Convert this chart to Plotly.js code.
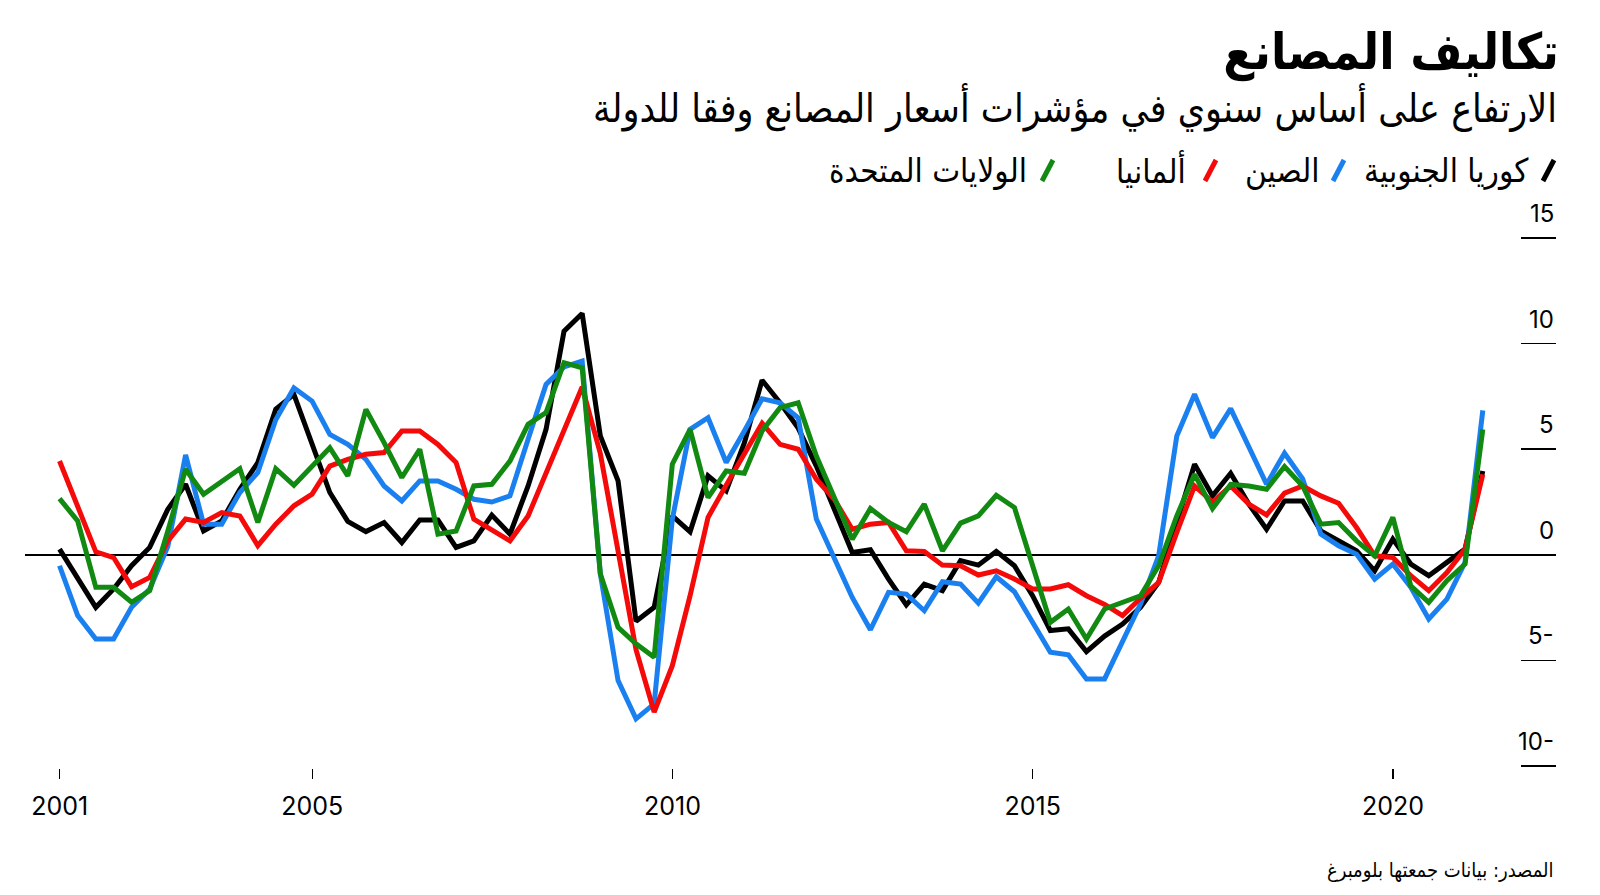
<!DOCTYPE html>
<html><head><meta charset="utf-8">
<script src="https://cdn.plot.ly/plotly-3.0.1.min.js"></script>
<style>html,body{margin:0;padding:0;background:#fff}#chart{width:1600px;height:895px}</style>
</head><body><div id="chart"></div>
<script>
// ---- data (quarterly, year-on-year % change in producer price indices) ----
const seriesNames = ['كوريا الجنوبية', 'الصين', 'ألمانيا', 'الولايات المتحدة'];
const seriesColors = ['#000000', '#1a80f0', '#f50a0a', '#128a12'];

const korea = [0.27, -1.1, -2.49, -1.62, -0.52, 0.35, 2.16, 3.34, 1.13, 1.6, 3.1, 4.37, 6.89, 7.6, 5.3, 2.95,
  1.58, 1.1, 1.53, 0.58, 1.65, 1.65, 0.35, 0.66, 1.88, 0.98, 3.26, 5.94, 10.59, 11.43, 5.63, 3.5,
  -3.15, -2.49, 1.84, 1.09, 3.74, 3.03, 5.3, 8.27, 7.2, 6.0, 4.2, 2.16, 0.11, 0.24, -1.15, -2.38,
  -1.39, -1.7, -0.28, -0.49, 0.16, -0.52, -1.94, -3.59, -3.51, -4.59, -3.85, -3.28, -2.49, -1.31, 1.53, 4.29,
  2.79, 3.86, 2.4, 1.21, 2.55, 2.55, 1.13, 0.66, 0.19, -0.76, 0.74, -0.44, -0.99, -0.36, 0.27, 3.97];

const china = [-0.52, -2.88, -3.99, -3.99, -2.49, -1.62, 0.4, 4.73, 1.45, 1.45, 2.95, 3.9, 6.4, 7.9, 7.28, 5.7,
  5.23, 4.52, 3.26, 2.55, 3.5, 3.5, 3.1, 2.63, 2.5, 2.79, 5.47, 8.07, 8.9, 9.17, -0.9, -5.96,
  -7.77, -7.06, 1.69, 5.94, 6.49, 4.37, 5.86, 7.39, 7.2, 6.49, 1.69, -0.2, -2.02, -3.55, -1.78, -1.86,
  -2.65, -1.28, -1.39, -2.29, -1.04, -1.75, -3.2, -4.62, -4.74, -5.88, -5.88, -4.15, -2.33, -0.05, 5.63, 7.6,
  5.55, 6.92, 5.07, 3.34, 4.81, 3.6, 0.98, 0.43, 0.03, -1.15, -0.44, -1.54, -3.04, -2.1, -0.36, 6.84];

const germany = [4.44, 2.32, 0.14, -0.13, -1.51, -1.07, 0.66, 1.69, 1.53, 2.0, 1.84, 0.43, 1.45, 2.32, 2.87, 4.2,
  4.52, 4.76, 4.84, 5.86, 5.86, 5.23, 4.37, 1.69, 1.21, 0.66, 1.84, 3.9, 5.9, 7.95, 4.8, 0.2,
  -4.5, -7.45, -5.25, -1.94, 1.77, 3.3, 4.84, 6.23, 5.23, 5.0, 3.58, 2.63, 1.21, 1.45, 1.53, 0.19,
  0.16, -0.49, -0.52, -0.96, -0.76, -1.15, -1.62, -1.62, -1.42, -1.94, -2.35, -2.88, -2.06, -1.31, 1.06, 3.26,
  2.5, 3.26, 2.4, 1.89, 2.92, 3.26, 2.79, 2.44, 1.29, -0.05, -0.13, -0.99, -1.7, -0.84, 0.27, 3.81];

const usa = [2.66, 1.6, -1.54, -1.54, -2.25, -1.7, 1.13, 4.05, 2.87, 3.5, 4.08, 1.53, 4.08, 3.29, 4.2, 5.07,
  3.74, 6.89, 5.31, 3.66, 5.0, 0.98, 1.13, 3.26, 3.34, 4.44, 6.18, 6.73, 9.1, 8.86, -0.9, -3.44,
  -4.22, -4.85, 4.29, 5.94, 2.71, 3.97, 3.86, 5.86, 6.97, 7.2, 4.68, 2.71, 0.74, 2.19, 1.53, 1.09,
  2.4, 0.19, 1.5, 1.84, 2.82, 2.24, -0.6, -3.2, -2.57, -3.99, -2.57, -2.25, -1.94, -0.52, 1.84, 3.81,
  2.19, 3.34, 3.26, 3.1, 4.18, 3.26, 1.45, 1.53, 0.66, -0.05, 1.77, -1.47, -2.25, -1.23, -0.44, 5.94];

const yTickVals = [-10, -5, 0, 5, 10, 15];
const yTickText = ['10-', '5-', '0', '5', '10', '15'];
const xTickVals = ['2001-07-01', '2005-01-01', '2010-01-01', '2015-01-01', '2020-01-01'];
const xTickText = ['2001', '2005', '2010', '2015', '2020'];

const titleText = 'تكاليف المصانع';
const subtitleText = 'الارتفاع على أساس سنوي في مؤشرات أسعار المصانع وفقا للدولة';
const sourceText = 'المصدر: بيانات جمعتها بلومبرغ';

// quarter-end dates, first quarter = 2001 Q2
const quarterEnd = ['03-31', '06-30', '09-30', '12-31'];
const dates = korea.map((_, i) => { const n = i + 1; return (2001 + Math.floor(n / 4)) + '-' + quarterEnd[n % 4]; });

// ---- layout helpers ----
const W = 1600, H = 895;
const M = {l: 25, r: 44, t: 236, b: 127};
const PW = W - M.l - M.r, PH = H - M.t - M.b;
const px = v => (v - M.l) / PW;
const py = v => (H - M.b - v) / PH;

const arabicFont = '"DejaVu Sans Condensed", "DejaVu Sans", sans-serif';
const numFont = 'Inter, Roboto, sans-serif';

const allSeries = [korea, china, germany, usa];
const traces = allSeries.map((vals, i) => ({
  x: dates, y: vals, type: 'scatter', mode: 'lines', name: seriesNames[i],
  line: {color: seriesColors[i], width: 5, shape: 'linear'},
  hoverinfo: 'skip'
}));

const annotations = [];
// y tick labels above the tick marks
yTickVals.forEach((v, i) => annotations.push({
  xref: 'paper', x: 1, xanchor: 'right', yref: 'y', y: v, yanchor: 'bottom', yshift: 8,
  text: yTickText[i], showarrow: false, font: {family: numFont, size: 24, color: '#000'}
}));
// subtitle
annotations.push({xref: 'paper', x: px(1559), xanchor: 'right', yref: 'paper', y: py(107), yanchor: 'middle',
  text: subtitleText, showarrow: false, font: {family: arabicFont, size: 39, color: '#000'}});
// source
annotations.push({xref: 'paper', x: px(1556), xanchor: 'right', yref: 'paper', y: py(870), yanchor: 'middle',
  text: sourceText, showarrow: false, font: {family: arabicFont, size: 20, color: '#000'}});

// custom RTL legend
const legendTextRight = [1531, 1322, 1188, 1029];
const legendMarkRight = [1555, 1345, 1217, 1054];
const shapes = [];
seriesNames.forEach((n, i) => {
  annotations.push({xref: 'paper', x: px(legendTextRight[i]), xanchor: 'right', yref: 'paper', y: py(170), yanchor: 'middle',
    text: n, showarrow: false, font: {family: arabicFont, size: 33, color: '#000'}});
  shapes.push({type: 'line', xref: 'paper', yref: 'paper',
    x0: px(legendMarkRight[i] - 12), y0: py(181), x1: px(legendMarkRight[i] - 1), y1: py(160),
    line: {color: seriesColors[i], width: 5}});
});

const layout = {
  width: W, height: H, margin: M,
  paper_bgcolor: '#fff', plot_bgcolor: '#fff',
  showlegend: false,
  title: {text: titleText, xref: 'container', yref: 'container', x: 1559 / W, xanchor: 'right',
    y: 1 - 51 / H, yanchor: 'middle', font: {family: arabicFont, size: 50, weight: 'bold', color: '#000'}},
  xaxis: {type: 'date', range: ['2001-01-06', '2022-04-06'], tickmode: 'array', tickvals: xTickVals, ticktext: xTickText,
    ticks: 'outside', ticklen: 10, tickwidth: 1.2, tickcolor: '#000', showgrid: false, zeroline: false, showline: false,
    ticklabelstandoff: 6,
    tickfont: {family: numFont, size: 25, color: '#000'}, fixedrange: true},
  yaxis: {range: [-10.1, 15.1], side: 'right', tickmode: 'array', tickvals: yTickVals, ticks: 'inside', ticklen: 35,
    tickwidth: 1.5, tickcolor: '#000', showticklabels: false, showgrid: false, showline: false,
    zeroline: true, zerolinecolor: '#000', zerolinewidth: 1.5, fixedrange: true},
  annotations: annotations,
  shapes: shapes
};

Plotly.newPlot('chart', traces, layout, {displayModeBar: false, staticPlot: true});
</script>
</body></html>
